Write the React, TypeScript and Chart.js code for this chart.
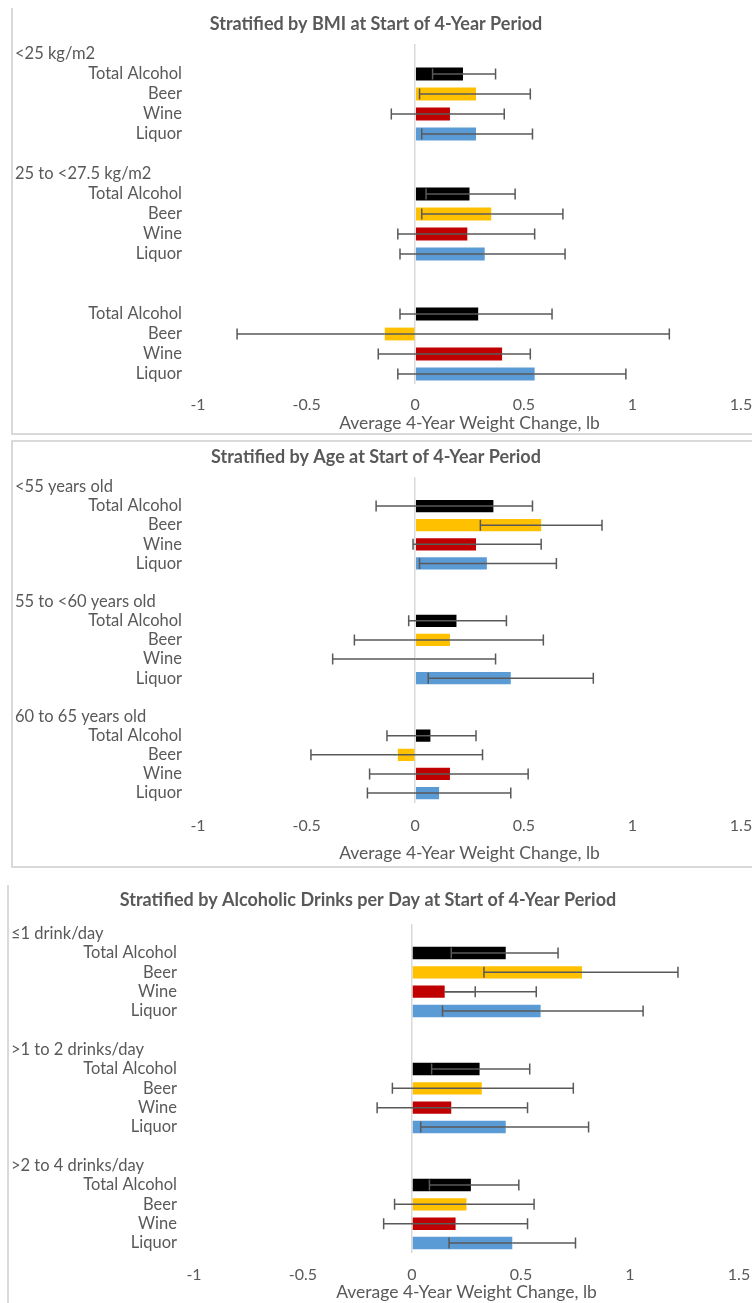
import React, { useEffect, useRef } from 'react';
import { Chart, registerables } from 'chart.js';

Chart.register(...registerables);

// ---------- data ----------
const ITEM_LABELS = ['Total Alcohol', 'Beer', 'Wine', 'Liquor'];
const ITEM_COLORS = ['#000000', '#FFC000', '#C00000', '#5B9BD5'];
const X_MIN = -1;
const X_MAX = 1.5;
const X_STEP = 0.5;
const AXIS_TITLE = 'Average 4-Year Weight Change, lb';

const BMI_TITLE = 'Stratified by BMI at Start of 4-Year Period';
const BMI_GROUPS = ['<25 kg/m2', '25 to <27.5 kg/m2', ''];
const BMI_MEAN = [
  [0.22, 0.28, 0.16, 0.28],
  [0.25, 0.35, 0.24, 0.32],
  [0.29, -0.14, 0.4, 0.55],
];
const BMI_LOWER = [
  [0.08, 0.02, -0.11, 0.03],
  [0.05, 0.03, -0.08, -0.07],
  [-0.07, -0.82, -0.17, -0.08],
];
const BMI_UPPER = [
  [0.37, 0.53, 0.41, 0.54],
  [0.46, 0.68, 0.55, 0.69],
  [0.63, 1.17, 0.53, 0.97],
];

const AGE_TITLE = 'Stratified by Age at Start of 4-Year Period';
const AGE_GROUPS = ['<55 years old', '55 to <60 years old', '60 to 65 years old'];
const AGE_MEAN = [
  [0.36, 0.58, 0.28, 0.33],
  [0.19, 0.16, 0.0, 0.44],
  [0.07, -0.08, 0.16, 0.11],
];
const AGE_LOWER = [
  [-0.18, 0.3, -0.01, 0.02],
  [-0.03, -0.28, -0.38, 0.06],
  [-0.13, -0.48, -0.21, -0.22],
];
const AGE_UPPER = [
  [0.54, 0.86, 0.58, 0.65],
  [0.42, 0.59, 0.37, 0.82],
  [0.28, 0.31, 0.52, 0.44],
];

const DRINK_TITLE = 'Stratified by Alcoholic Drinks per Day at Start of 4-Year Period';
const DRINK_GROUPS = ['≤1 drink/day', '>1 to 2 drinks/day', '>2 to 4 drinks/day'];
const DRINK_MEAN = [
  [0.43, 0.78, 0.15, 0.59],
  [0.31, 0.32, 0.18, 0.43],
  [0.27, 0.25, 0.2, 0.46],
];
const DRINK_LOWER = [
  [0.18, 0.33, 0.29, 0.14],
  [0.09, -0.09, -0.16, 0.04],
  [0.08, -0.08, -0.13, 0.17],
];
const DRINK_UPPER = [
  [0.67, 1.22, 0.57, 1.06],
  [0.54, 0.74, 0.53, 0.81],
  [0.49, 0.56, 0.53, 0.75],
];

// ---------- styling ----------
const FONT = 'Lato, "Noto Sans", "DejaVu Sans", sans-serif';
const TEXT_COLOR = '#595959';
const BORDER_COLOR = '#d9d9d9';
const AXIS_H = 30;

type Row = { kind: 'group' | 'item' | 'blank'; label: string; value: number | null; lo: number | null; hi: number | null; color: string };

function buildRows(groups: string[], mean: number[][], lower: number[][], upper: number[][]): Row[] {
  const rows: Row[] = [];
  groups.forEach((g, gi) => {
    if (gi > 0) rows.push({ kind: 'blank', label: '', value: null, lo: null, hi: null, color: 'rgba(0,0,0,0)' });
    rows.push({ kind: 'group', label: g, value: null, lo: null, hi: null, color: 'rgba(0,0,0,0)' });
    ITEM_LABELS.forEach((it, ii) => {
      rows.push({ kind: 'item', label: it, value: mean[gi][ii], lo: lower[gi][ii], hi: upper[gi][ii], color: ITEM_COLORS[ii] });
    });
  });
  return rows;
}

type PanelCfg = {
  title: string;
  rows: Row[];
  top: number;
  height: number;
  pad: { left: number; right: number; top: number; bottom: number };
  tickPad: number;
  titleX: number;
  titleY: number;
  groupX: number;
  itemX: number;
  axisTitleY: number;
};

const PANELS: PanelCfg[] = [
  {
    title: BMI_TITLE,
    rows: buildRows(BMI_GROUPS, BMI_MEAN, BMI_LOWER, BMI_UPPER),
    top: 0,
    height: 434,
    pad: { left: 198, right: 11, top: 44, bottom: 20 },
    tickPad: 11,
    titleX: 376,
    titleY: 24,
    groupX: 15,
    itemX: 182,
    axisTitleY: 423,
  },
  {
    title: AGE_TITLE,
    rows: buildRows(AGE_GROUPS, AGE_MEAN, AGE_LOWER, AGE_UPPER),
    top: 441,
    height: 426,
    pad: { left: 198, right: 11, top: 36.3, bottom: 34.4 },
    tickPad: 13.5,
    titleX: 376,
    titleY: 16,
    groupX: 15,
    itemX: 182,
    axisTitleY: 412,
  },
  {
    title: DRINK_TITLE,
    rows: buildRows(DRINK_GROUPS, DRINK_MEAN, DRINK_LOWER, DRINK_UPPER),
    top: 885,
    height: 418,
    pad: { left: 194, right: 13, top: 39, bottom: 20.3 },
    tickPad: 12.7,
    titleX: 368,
    titleY: 15,
    groupX: 11,
    itemX: 177,
    axisTitleY: 407,
  },
];

function Panel({ cfg }: { cfg: PanelCfg }) {
  const ref = useRef<HTMLCanvasElement | null>(null);
  useEffect(() => {
    if (!ref.current) return;
    const rows = cfg.rows;
    const plugin = {
      id: 'panelText',
      afterDatasetsDraw(chart: any) {
        const { ctx, chartArea, scales } = chart;
        const xs = scales.x;
        const ys = scales.y;
        const meta = chart.getDatasetMeta(0);
        ctx.save();
        // error bars
        ctx.strokeStyle = '#595959';
        ctx.lineWidth = 1.5;
        rows.forEach((r, i) => {
          if (r.kind !== 'item' || r.value === null) return;
          const el = meta.data[i];
          const y = el.y;
          const x0 = xs.getPixelForValue(r.value);
          [r.lo, r.hi].forEach((v) => {
            if (v === null) return;
            const xv = xs.getPixelForValue(v);
            ctx.beginPath();
            ctx.moveTo(x0, y);
            ctx.lineTo(xv, y);
            ctx.moveTo(xv, y - 5.5);
            ctx.lineTo(xv, y + 5.5);
            ctx.stroke();
          });
        });
        // row labels
        ctx.fillStyle = TEXT_COLOR;
        ctx.textBaseline = 'middle';
        ctx.font = `16.5px ${FONT}`;
        rows.forEach((r, i) => {
          if (!r.label) return;
          const y = ys.getPixelForValue(i);
          if (r.kind === 'group') {
            ctx.textAlign = 'left';
            ctx.fillText(r.label, cfg.groupX, y);
          } else {
            ctx.textAlign = 'right';
            ctx.fillText(r.label, cfg.itemX, y);
          }
        });
        // title
        ctx.font = `bold 18px ${FONT}`;
        ctx.textAlign = 'center';
        ctx.fillText(cfg.title, cfg.titleX, cfg.titleY);
        // axis title
        ctx.font = `17.5px ${FONT}`;
        ctx.fillText(AXIS_TITLE, (chartArea.left + chartArea.right) / 2, cfg.axisTitleY);
        ctx.restore();
      },
    };
    const chart = new Chart(ref.current, {
      type: 'bar',
      data: {
        labels: rows.map((r) => r.label),
        datasets: [
          {
            data: rows.map((r) => r.value) as any,
            backgroundColor: rows.map((r) => r.color),
            borderWidth: 0,
            barPercentage: 0.64,
            categoryPercentage: 1,
          },
        ],
      },
      options: {
        indexAxis: 'y',
        responsive: false,
        animation: false,
        devicePixelRatio: 1,
        layout: { padding: cfg.pad },
        plugins: {
          legend: { display: false },
          tooltip: { enabled: false },
          title: { display: false },
        },
        scales: {
          x: {
            min: X_MIN,
            max: X_MAX,
            afterFit: (s: any) => {
              s.height = AXIS_H;
              s.paddingLeft = 0;
              s.paddingRight = 0;
            },
            ticks: {
              stepSize: X_STEP,
              color: TEXT_COLOR,
              font: { family: FONT, size: 16 },
              padding: cfg.tickPad,
              maxRotation: 0,
              callback: (v: any) => String(v),
            },
            grid: {
              drawTicks: false,
              lineWidth: 1.5,
              color: (c: any) => (c.tick && c.tick.value === 0 ? BORDER_COLOR : 'rgba(0,0,0,0)'),
            },
            border: { display: false },
          },
          y: { display: false },
        },
      },
      plugins: [plugin],
    });
    return () => chart.destroy();
  }, [cfg]);
  return (
    <canvas
      ref={ref}
      width={752}
      height={cfg.height}
      style={{ position: 'absolute', left: 0, top: cfg.top, width: 752, height: cfg.height }}
    />
  );
}

function Line({ l, t, w, h }: { l: number; t: number; w: number; h: number }) {
  return <div style={{ position: 'absolute', left: l, top: t, width: w, height: h, background: BORDER_COLOR }} />;
}

export default function App() {
  return (
    <div style={{ position: 'absolute', left: 0, top: 0, width: 752, height: 1303, background: '#fff', overflow: 'hidden' }}>
      {/* panel borders */}
      <Line l={11} t={8} w={2} h={427} />
      <Line l={11} t={433} w={741} h={2} />
      <Line l={11} t={440} w={741} h={2} />
      <Line l={11} t={440} w={2} h={428} />
      <Line l={11} t={866} w={741} h={2} />
      <Line l={7} t={885} w={2} h={418} />
      {PANELS.map((p, i) => (
        <Panel key={i} cfg={p} />
      ))}
    </div>
  );
}
